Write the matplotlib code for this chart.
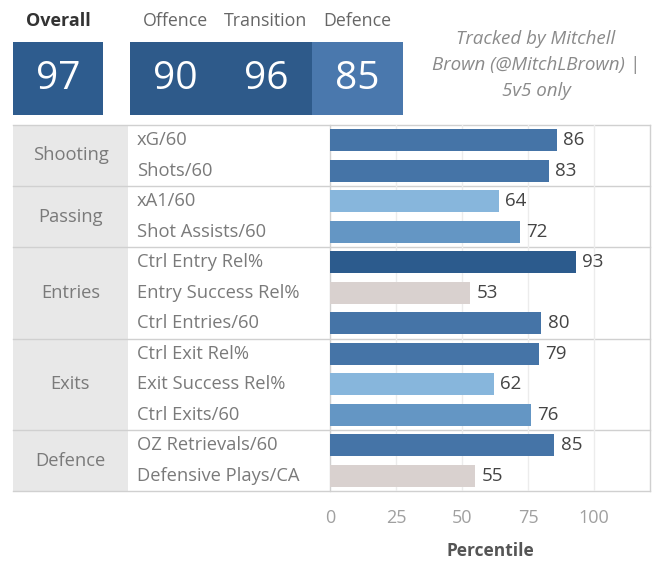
import matplotlib
matplotlib.use("Agg")
import matplotlib.pyplot as plt
from matplotlib.patches import Rectangle

# ---------------- data ----------------
groups = ["Shooting", "Passing", "Entries", "Exits", "Defence"]
group_sizes = [2, 2, 3, 3, 2]
metrics = ["xG/60", "Shots/60", "xA1/60", "Shot Assists/60",
           "Ctrl Entry Rel%", "Entry Success Rel%", "Ctrl Entries/60",
           "Ctrl Exit Rel%", "Exit Success Rel%", "Ctrl Exits/60",
           "OZ Retrievals/60", "Defensive Plays/CA"]
percentiles = [86, 83, 64, 72, 93, 53, 80, 79, 62, 76, 85, 55]
summary_labels = ["Overall", "Offence", "Transition", "Defence"]
summary_values = [97, 90, 96, 85]
x_ticks = [0, 25, 50, 75, 100]
credit = "Tracked by Mitchell\nBrown (@MitchLBrown) |\n5v5 only"

W, H = 656, 562
FONT = ["Open Sans", "DejaVu Sans"]
plt.rcParams['font.family'] = FONT


def bar_color(v):
    if v >= 90:
        return "#2c5b8d"
    if v >= 78:
        return "#4574a7"
    if v >= 70:
        return "#6496c4"
    if v >= 60:
        return "#87b6dc"
    return "#d9d1cf"


fig = plt.figure(figsize=(W / 100, H / 100), dpi=100)
fig.patch.set_facecolor("white")

# decoration axes in pixel coordinates
deco = fig.add_axes([0, 0, 1, 1])
deco.set_xlim(0, W)
deco.set_ylim(H, 0)
deco.axis("off")

table_top, table_bottom = 125, 491
left, cat_right, lab_right, right = 13, 128, 330, 650
n = len(metrics)
row_h = (table_bottom - table_top) / n

# category background
deco.add_patch(Rectangle((left, table_top), cat_right - left, table_bottom - table_top,
                         facecolor="#e8e8e8", edgecolor="none", zorder=0))
line_c = "#d0d0d0"
deco.plot([lab_right, lab_right], [table_top, table_bottom], color=line_c, lw=1)
deco.plot([right, right], [table_top, table_bottom], color=line_c, lw=1)
deco.plot([left, right], [table_top, table_top], color=line_c, lw=1)

start = 0
for g, s in zip(groups, group_sizes):
    y0 = table_top + start * row_h
    y1 = table_top + (start + s) * row_h
    deco.plot([left, right], [y1, y1], color=line_c, lw=1)
    deco.text((left + cat_right) / 2, (y0 + y1) / 2, g, ha="center", va="center",
              fontsize=13.2, color="#7a7a7a")
    start += s

for i, m in enumerate(metrics):
    yc = table_top + (i + 0.5) * row_h
    deco.text(137, yc, m, ha="left", va="center", fontsize=13.2, color="#7a7a7a")

# summary boxes
deco.text(58, 21, summary_labels[0], ha="center", va="center", fontsize=13,
          fontweight="bold", color="#333333")
deco.add_patch(Rectangle((13, 42), 90, 73, facecolor="#2e5c8e", edgecolor="none"))
deco.text(58, 79, str(summary_values[0]), ha="center", va="center", fontsize=28, color="white")

deco.add_patch(Rectangle((130, 42), 182, 73, facecolor="#2e5a8a", edgecolor="none"))
deco.add_patch(Rectangle((312, 42), 91, 73, facecolor="#4a78ad", edgecolor="none"))
for lab, val, xc in zip(summary_labels[1:], summary_values[1:], [175, 266, 357.5]):
    deco.text(xc, 21, lab, ha="center", va="center", fontsize=12.8, color="#666666")
    deco.text(xc, 79, str(val), ha="center", va="center", fontsize=28, color="white")

deco.text(536, 65, credit, ha="center", va="center", fontsize=13.5, style="italic",
          color="#8a8a8a", linespacing=1.6)

# bar axes
ax = fig.add_axes([lab_right / W, 1 - table_bottom / H, (right - lab_right) / W,
                   (table_bottom - table_top) / H])
ax.set_facecolor("none")
ys = list(range(n))
ax.barh(ys, percentiles, height=0.72, color=[bar_color(v) for v in percentiles], zorder=2)
for y, v in zip(ys, percentiles):
    ax.text(v + 2.4, y, str(v), ha="left", va="center", fontsize=13.5, color="#444444")
ax.set_ylim(n - 0.5, -0.5)
ax.set_xlim(0, (right - lab_right) / 2.64)
ax.set_xticks(x_ticks)
ax.set_xticklabels([str(t) for t in x_ticks], fontsize=13, color="#a0a0a0")
ax.tick_params(axis="x", length=0, pad=13)
ax.set_yticks([])
for x in x_ticks[1:]:
    ax.axvline(x, color="#ececec", lw=1, zorder=1)
for sp in ax.spines.values():
    sp.set_visible(False)
ax.set_xlabel("Percentile", fontsize=12.5, color="#555555", fontweight="bold", labelpad=11)

fig.savefig("out.png", dpi=100, facecolor="white")
